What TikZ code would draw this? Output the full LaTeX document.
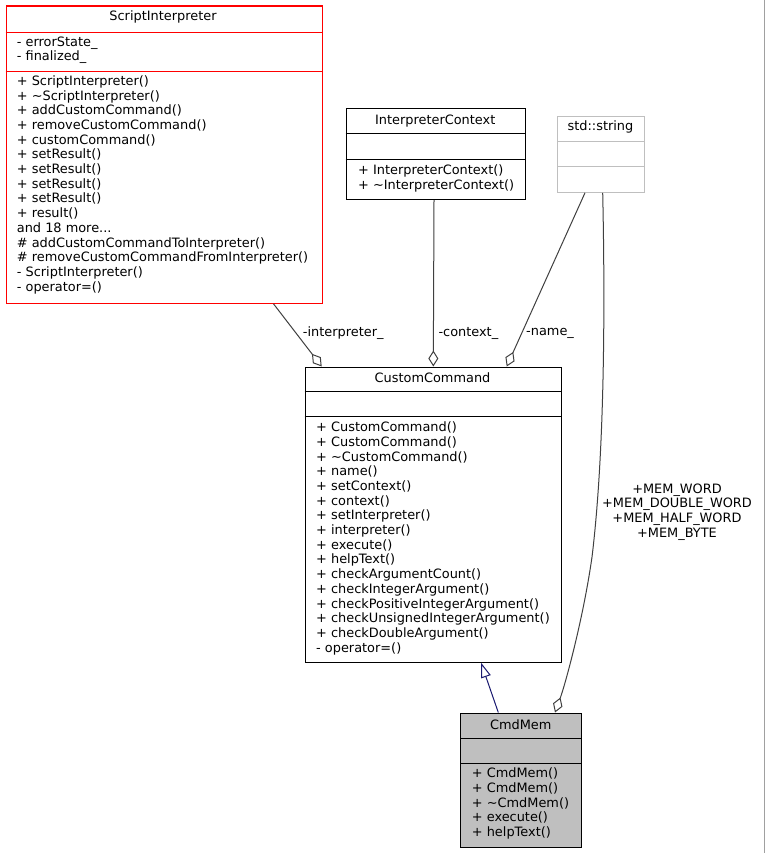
\documentclass[tikz,border=0pt]{standalone}
\usepackage{fontspec}
\setmainfont{DejaVu Sans}
\usetikzlibrary{arrows.meta,calc}
\definecolor{edgegrey}{HTML}{404040}
\definecolor{navyblue}{HTML}{191970}
\definecolor{boxgrey}{HTML}{BFBFBF}
\definecolor{lightborder}{HTML}{BFBFBF}
\definecolor{truncred}{HTML}{FF0000}
\definecolor{frameline}{HTML}{A0A0A0}
\newcommand{\umlfont}{\fontsize{12.9}{14.7}\selectfont}
\tikzset{
  classbox/.style={draw=black, line width=1.1pt, anchor=north west, inner sep=0pt},
  members/.style={anchor=west, align=left, inner sep=0pt, font=\umlfont},
  classtitle/.style={inner sep=0pt, font=\umlfont},
  sepline/.style={line width=1.1pt},
  usage/.style={draw=edgegrey, line width=1pt, -{Diamond[open, fill=white, length=16pt, width=10pt]}},
  inherit/.style={draw=navyblue, line width=1pt, -{Triangle[open, fill=white, length=15pt, width=10pt]}},
  elabel/.style={inner sep=0pt, font=\umlfont, align=center}
}
\begin{document}
\begin{tikzpicture}[x=1pt,y=-1pt]
\useasboundingbox (0,0) rectangle (765,853);
\fill[white] (0,0) rectangle (765,853);
\draw[frameline, line width=1pt] (764.5,0) -- (764.5,853);

% ScriptInterpreter
\node[classbox, draw=truncred, line width=1.3pt, minimum width=316pt, minimum height=297pt] (si) at (5.5,5.5) {};
\draw[sepline, truncred] (5.5,32.5) -- (321.5,32.5);
\draw[sepline, truncred] (5.5,71.5) -- (321.5,71.5);
\node[classtitle] (sit) at (163,17) {ScriptInterpreter};
\node[members] (sia) at (16.7,50.3) {- errorState\_\\- finalized\_};
\node[members] (sim) at (16.7,184.7) {+ ScriptInterpreter()\\+ \textasciitilde ScriptInterpreter()\\+ addCustomCommand()\\+ removeCustomCommand()\\+ customCommand()\\+ setResult()\\+ setResult()\\+ setResult()\\+ setResult()\\+ result()\\and 18 more...\\\# addCustomCommandToInterpreter()\\\# removeCustomCommandFromInterpreter()\\- ScriptInterpreter()\\- operator=()};

% InterpreterContext
\node[classbox, minimum width=179pt, minimum height=90.7pt] (ic) at (345.7,108.3) {};
\draw[sepline] (345.7,133.5) -- (524.7,133.5);
\draw[sepline] (345.7,159.5) -- (524.7,159.5);
\node[classtitle] (ict) at (435.2,120.7) {InterpreterContext};
\node[members] (icm) at (358,178.2) {+ InterpreterContext()\\+ \textasciitilde InterpreterContext()};

% std::string
\node[classbox, draw=lightborder, minimum width=86.4pt, minimum height=76pt] (ss) at (557.3,115.7) {};
\draw[sepline, lightborder] (557.3,141.5) -- (643.7,141.5);
\draw[sepline, lightborder] (557.3,166.5) -- (643.7,166.5);
\node[classtitle] (sst) at (600.5,127.3) {std::string};

% CustomCommand
\node[classbox, minimum width=256pt, minimum height=295pt] (cc) at (304.5,366.5) {};
\draw[sepline] (304.5,391.5) -- (560.5,391.5);
\draw[sepline] (304.5,416.5) -- (560.5,416.5);
\node[classtitle] (cct) at (432.5,377.7) {CustomCommand};
\node[members] (ccm) at (316,538.3) {+ CustomCommand()\\+ CustomCommand()\\+ \textasciitilde CustomCommand()\\+ name()\\+ setContext()\\+ context()\\+ setInterpreter()\\+ interpreter()\\+ execute()\\+ helpText()\\+ checkArgumentCount()\\+ checkIntegerArgument()\\+ checkPositiveIntegerArgument()\\+ checkUnsignedIntegerArgument()\\+ checkDoubleArgument()\\- operator=()};

% CmdMem
\node[classbox, fill=boxgrey, minimum width=121.3pt, minimum height=134.7pt] (cm) at (460,712.5) {};
\draw[sepline] (460,738.5) -- (581.3,738.5);
\draw[sepline] (460,763.5) -- (581.3,763.5);
\node[classtitle] (cmt) at (520.7,724.7) {CmdMem};
\node[members] (cmm) at (471.7,803.5) {+ CmdMem()\\+ CmdMem()\\+ \textasciitilde CmdMem()\\+ execute()\\+ helpText()};

% connectors
\draw[usage] ([xshift=268pt]si.south west) -- ([xshift=17.2pt]cc.north west);
\draw[usage] ([xshift=88.3pt]ic.south west) -- ([xshift=128.8pt]cc.north west);
\draw[usage] ([xshift=27.7pt]ss.south west) -- ([xshift=202.2pt]cc.north west);
\draw[usage] ([xshift=45.4pt]ss.south west) .. controls (605,300) and (605,450) .. (592,557) .. controls (583,620) and (565,685) .. ([xshift=95pt]cm.north west);
\draw[inherit] ([xshift=38.3pt]cm.north west) -- ([xshift=176.5pt]cc.south west);

% labels
\node[elabel, anchor=west] (l1) at (302.7,333) {-interpreter\_};
\node[elabel, anchor=west] (l2) at (438.3,333) {-context\_};
\node[elabel, anchor=west] (l3) at (526,333) {-name\_};
\node[elabel] (l4) at (677,512) {+MEM\_WORD\\+MEM\_DOUBLE\_WORD\\+MEM\_HALF\_WORD\\+MEM\_BYTE};
\end{tikzpicture}
\end{document}
